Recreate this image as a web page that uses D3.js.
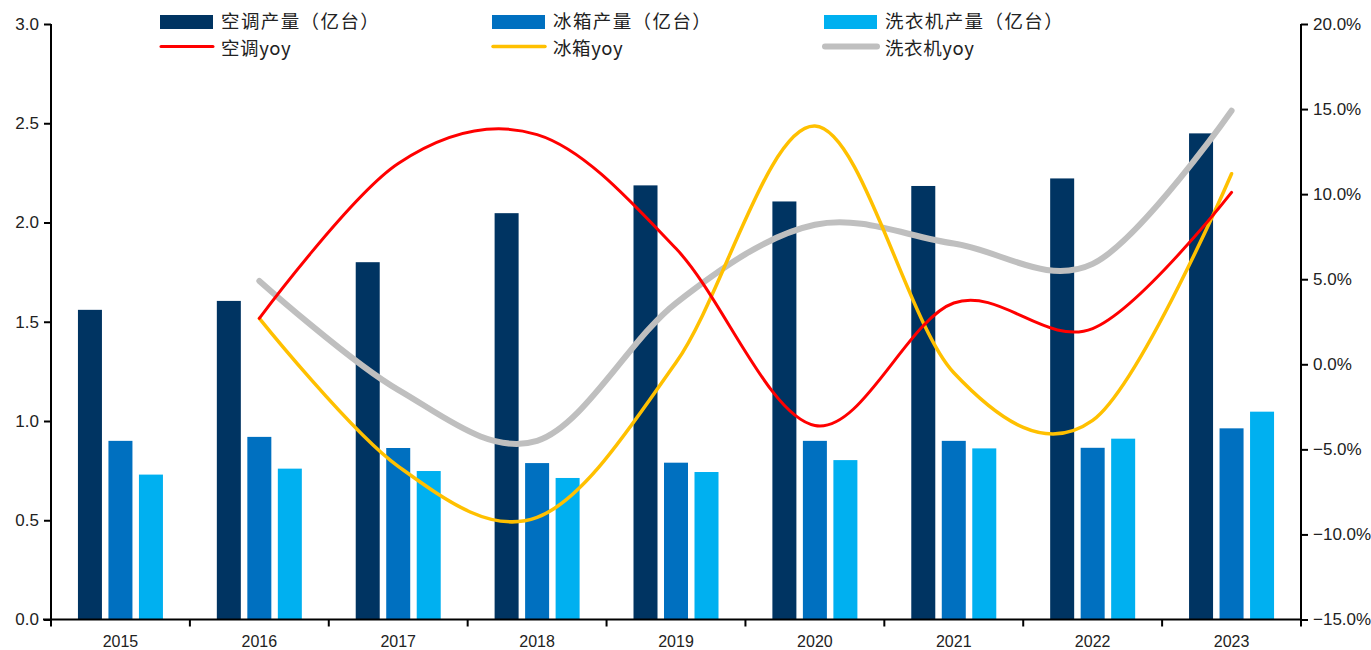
<!DOCTYPE html>
<html>
<head>
<meta charset="utf-8">
<script src="https://cdn.jsdelivr.net/npm/d3@7/dist/d3.min.js"></script>
<style>
  html, body { margin: 0; padding: 0; background: #fff; }
  svg { display: block; }
  .tick text { fill: #222; }
</style>
</head>
<body>
<svg id="chart" width="1371" height="650"></svg>
<script>
// Years on the category axis
const years = ["2015", "2016", "2017", "2018", "2019", "2020", "2021", "2022", "2023"];

// Output, 100 million units (left axis)
const acOutput     = [1.56, 1.605, 1.80, 2.047, 2.187, 2.106, 2.184, 2.222, 2.449];
const fridgeOutput = [0.90, 0.92, 0.864, 0.788, 0.79, 0.90, 0.90, 0.865, 0.963];
const washerOutput = [0.73, 0.76, 0.748, 0.713, 0.743, 0.803, 0.862, 0.911, 1.047];

// Year-on-year growth, % (right axis), from 2016 onward
const yoyYears  = ["2016", "2017", "2018", "2019", "2020", "2021", "2022", "2023"];
const acYoy     = [2.7, 11.8, 13.5, 6.8, -3.6, 3.6, 2.1, 10.1];
const fridgeYoy = [2.7, -6.0, -9.0, 0.1, 14.0, -0.5, -3.3, 11.2];
const washerYoy = [4.9, -1.5, -4.5, 3.6, 8.2, 7.1, 5.9, 14.9];

// Axis ticks
const leftTicks  = [0, 0.5, 1.0, 1.5, 2.0, 2.5, 3.0];
const rightTicks = [-15, -10, -5, 0, 5, 10, 15, 20];

// Series names
const barNames  = ["空调产量（亿台）", "冰箱产量（亿台）", "洗衣机产量（亿台）"];
const lineNames = ["空调yoy", "冰箱yoy", "洗衣机yoy"];

const barColors  = ["#003462", "#0070c0", "#00b0f0"];
const lineColors = ["#ff0000", "#ffc000", "#bfbfbf"];
const lineWidths = [3, 3.5, 6];

const svg = d3.select("#chart");
const plotLeft = 51, plotRight = 1301, plotTop = 24, plotBottom = 619.5;

const x0 = d3.scaleBand().domain(years).range([plotLeft, plotRight]).padding(0);
const x1 = d3.scaleBand().domain([0, 1, 2])
  .range([x0.bandwidth() / 2 - 42.5, x0.bandwidth() / 2 + 42.5])
  .paddingInner(0.213).paddingOuter(0);
const yL = d3.scaleLinear().domain([0, 3]).range([plotBottom, plotTop]);
const yR = d3.scaleLinear().domain([-15, 20]).range([plotBottom, plotTop]);

// Bars
const barSeries = [acOutput, fridgeOutput, washerOutput];
barSeries.forEach((vals, si) => {
  svg.append("g").selectAll("rect")
    .data(vals)
    .join("rect")
    .attr("x", (d, i) => x0(years[i]) + x1(si))
    .attr("width", x1.bandwidth())
    .attr("y", d => yL(d))
    .attr("height", d => yL(0) - yL(d))
    .attr("fill", barColors[si]);
});

// Growth lines
const lineSeries = [acYoy, fridgeYoy, washerYoy];
const drawOrder = [2, 1, 0];
drawOrder.forEach(si => {
  const vals = lineSeries[si];
  const line = d3.line()
    .x((d, i) => x0(yoyYears[i]) + x0.bandwidth() / 2)
    .y(d => yR(d))
    .curve(d3.curveCatmullRom.alpha(0));
  svg.append("path")
    .datum(vals)
    .attr("d", line)
    .attr("fill", "none")
    .attr("stroke", lineColors[si])
    .attr("stroke-width", lineWidths[si])
    .attr("stroke-linecap", "round")
    .attr("stroke-linejoin", "round");
});

// Axes
const tickFont = "'Liberation Sans', Arial, sans-serif";

const gL = svg.append("g").attr("transform", `translate(${plotLeft},0)`)
  .call(d3.axisLeft(yL).tickValues(leftTicks).tickSize(7).tickPadding(5)
    .tickFormat(d3.format(".1f")));
const gR = svg.append("g").attr("transform", `translate(${plotRight},0)`)
  .call(d3.axisRight(yR).tickValues(rightTicks).tickSize(7).tickPadding(5)
    .tickFormat(d => d3.format(".1f")(d) + "%"));
const xTicks = years.map(y => x0(y)).concat([plotRight]);
const gX = svg.append("g").attr("transform", `translate(0,${plotBottom})`);
gX.append("line").attr("x1", plotLeft - 8).attr("x2", plotRight).attr("y1", 0).attr("y2", 0)
  .attr("stroke", "#000").attr("stroke-width", 2);
gX.selectAll("line.tk").data(xTicks).join("line").attr("class", "tk")
  .attr("x1", d => d).attr("x2", d => d).attr("y1", 0).attr("y2", 7)
  .attr("stroke", "#000").attr("stroke-width", 2);
gX.selectAll("text").data(years).join("text")
  .attr("x", d => x0(d) + x0.bandwidth() / 2)
  .attr("y", 27)
  .attr("text-anchor", "middle")
  .attr("font-family", tickFont)
  .attr("font-size", 16)
  .attr("fill", "#222")
  .text(d => d);

[gL, gR].forEach(g => {
  g.select(".domain").attr("stroke", "#000").attr("stroke-width", 2)
    .attr("d", `M0,${plotTop}V${plotBottom}`);
  g.selectAll(".tick line").attr("stroke", "#000").attr("stroke-width", 2);
  g.selectAll(".tick text").attr("font-family", tickFont).attr("font-size", 17);
});

// Legend: two rows, bar swatches on top, line swatches below
const legendFont = "'Noto Sans CJK SC', 'Noto Sans', sans-serif";
const legendX = [160, 492, 824];
const legend = svg.append("g");
barNames.forEach((name, i) => {
  legend.append("rect").attr("x", legendX[i]).attr("y", 15).attr("width", 53).attr("height", 14)
    .attr("fill", barColors[i]);
  legend.append("text").attr("x", legendX[i] + 61).attr("y", 28)
    .attr("font-family", legendFont).attr("font-size", 18.5)
    .attr("letter-spacing", 1.4).attr("fill", "#222")
    .text(name);
});
lineNames.forEach((name, i) => {
  legend.append("line").attr("x1", legendX[i] + 1).attr("x2", legendX[i] + 53)
    .attr("y1", 46.5).attr("y2", 46.5)
    .attr("stroke", lineColors[i]).attr("stroke-width", lineWidths[i])
    .attr("stroke-linecap", "round");
  legend.append("text").attr("x", legendX[i] + 61).attr("y", 55)
    .attr("font-family", legendFont).attr("font-size", 18.5)
    .attr("letter-spacing", 0.6).attr("fill", "#222")
    .text(name);
});
</script>
</body>
</html>
